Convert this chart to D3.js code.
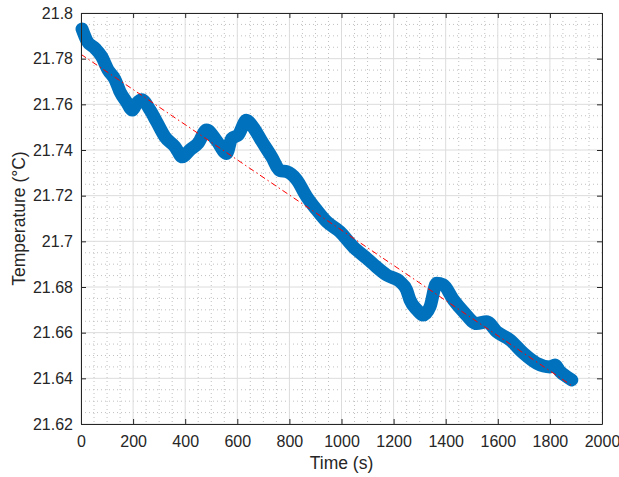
<!DOCTYPE html>
<meta charset="utf-8">
<script src="https://d3js.org/d3.v7.min.js"></script>
<style>
  body { margin: 0; background: #fff; }
  text { font-family: "Liberation Sans", Arial, sans-serif; fill: #262626; }
</style>
<div id="chart"></div>
<script>

var times = [4, 22, 54, 79, 104, 130, 150, 175, 197, 214, 233, 265, 290, 322, 361, 389, 418, 450,
             482, 521, 559, 578, 604, 635, 661, 693, 732, 764, 790, 828, 866, 905, 943, 994, 1045,
             1097, 1122, 1174, 1225, 1250, 1263, 1290, 1314, 1340, 1365, 1391, 1430, 1468, 1519,
             1557, 1596, 1647, 1698, 1749, 1800, 1820, 1839, 1865, 1884];
var temps = [21.793, 21.788, 21.7845, 21.781, 21.775, 21.771, 21.7655, 21.761, 21.7575, 21.7605,
             21.762, 21.7575, 21.7524, 21.7458, 21.7414, 21.737, 21.740, 21.743,
             21.7488, 21.744, 21.7385, 21.745, 21.7466, 21.753, 21.750, 21.744, 21.737, 21.731,
             21.7305, 21.727, 21.7196, 21.7137, 21.7086, 21.7042, 21.6976,
             21.6925, 21.690, 21.6852, 21.6823, 21.6787, 21.6743, 21.6700, 21.6677, 21.6714,
             21.6816, 21.6809, 21.6743, 21.6692, 21.664,
             21.6648, 21.6604, 21.6568, 21.651, 21.6466, 21.645, 21.6458, 21.643, 21.6407, 21.6393];

// linear fit line (end points)
var fitTimes = [0, 1884];
var fitTemps = [21.7819, 21.6368];

var xTicks = [0, 200, 400, 600, 800, 1000, 1200, 1400, 1600, 1800, 2000];
var yTicks = [21.62, 21.64, 21.66, 21.68, 21.7, 21.72, 21.74, 21.76, 21.78, 21.8];

var margin = {top: 13, right: 17, bottom: 53, left: 81},
    width = 619 - margin.left - margin.right,
    height = 477 - margin.top - margin.bottom;

var svg = d3.select("#chart")
  .append("svg")
    .attr("width", 619)
    .attr("height", 477)
  .append("g")
    .attr("transform", "translate(" + margin.left + "," + margin.top + ")");

var x = d3.scaleLinear().domain([0, 2000]).range([0, width]);
var y = d3.scaleLinear().domain([21.62, 21.8]).range([height, 0]);

// minor grid (dotted)
var xMinor = d3.range(0, 2001, 50).filter(function(d) { return d % 200 !== 0; });
var yMinor = d3.range(0, 37).map(function(i) { return 21.62 + i * 0.005; })
  .filter(function(d, i) { return i % 4 !== 0; });

svg.append("g").selectAll("line")
  .data(xMinor).enter().append("line")
    .attr("x1", function(d) { return x(d); })
    .attr("x2", function(d) { return x(d); })
    .attr("y1", 0).attr("y2", height)
    .style("stroke", "#c0c0c0")
    .style("stroke-dasharray", "1,3");

svg.append("g").selectAll("line")
  .data(yMinor).enter().append("line")
    .attr("y1", function(d) { return y(d); })
    .attr("y2", function(d) { return y(d); })
    .attr("x1", 0).attr("x2", width)
    .style("stroke", "#c0c0c0")
    .style("stroke-dasharray", "1,3");

// major grid
svg.append("g").selectAll("line")
  .data(xTicks).enter().append("line")
    .attr("x1", function(d) { return x(d); })
    .attr("x2", function(d) { return x(d); })
    .attr("y1", 0).attr("y2", height)
    .style("stroke", "#dcdcdc");

svg.append("g").selectAll("line")
  .data(yTicks).enter().append("line")
    .attr("y1", function(d) { return y(d); })
    .attr("y2", function(d) { return y(d); })
    .attr("x1", 0).attr("x2", width)
    .style("stroke", "#dcdcdc");

// data line (thick, marker-like)
var pts = times.map(function(t, i) { return [t, temps[i]]; });
var line = d3.line()
  .x(function(d) { return x(d[0]); })
  .y(function(d) { return y(d[1]); })
  .curve(d3.curveMonotoneX);

svg.append("path")
  .datum(pts)
  .attr("d", line)
  .style("fill", "none")
  .style("stroke", "#0072BD")
  .style("stroke-width", 13)
  .style("stroke-linecap", "round")
  .style("stroke-linejoin", "round");

// fit line
var fit = fitTimes.map(function(t, i) { return [t, fitTemps[i]]; });
svg.append("path")
  .datum(fit)
  .attr("d", d3.line().x(function(d) { return x(d[0]); }).y(function(d) { return y(d[1]); }))
  .style("fill", "none")
  .style("stroke", "#ff0000")
  .style("stroke-width", 1)
  .style("stroke-dasharray", "6,3,1.5,3");

// axes, MATLAB style with inward ticks and box
var fmt = function(d) { return String(+d.toFixed(2)); };

svg.append("g")
  .attr("transform", "translate(0," + height + ")")
  .call(d3.axisBottom(x).tickValues(xTicks).tickSizeInner(-5).tickSizeOuter(0).tickPadding(12).tickFormat(d3.format("d")))
  .call(function(g) {
    g.select(".domain").style("stroke", "#262626");
    g.selectAll(".tick line").style("stroke", "#262626");
    g.selectAll("text").style("font-size", "16px").style("fill", "#262626");
  });

svg.append("g")
  .call(d3.axisTop(x).tickValues(xTicks).tickSizeInner(-5).tickSizeOuter(0).tickFormat(""))
  .call(function(g) {
    g.select(".domain").style("stroke", "#262626");
    g.selectAll(".tick line").style("stroke", "#262626");
  });

svg.append("g")
  .call(d3.axisLeft(y).tickValues(yTicks).tickSizeInner(-5).tickSizeOuter(0).tickPadding(8).tickFormat(fmt))
  .call(function(g) {
    g.select(".domain").style("stroke", "#262626");
    g.selectAll(".tick line").style("stroke", "#262626");
    g.selectAll("text").style("font-size", "16px").style("fill", "#262626");
  });

svg.append("g")
  .attr("transform", "translate(" + width + ",0)")
  .call(d3.axisRight(y).tickValues(yTicks).tickSizeInner(-5).tickSizeOuter(0).tickFormat(""))
  .call(function(g) {
    g.select(".domain").style("stroke", "#262626");
    g.selectAll(".tick line").style("stroke", "#262626");
  });

// axis labels
svg.append("text")
  .attr("x", width / 2)
  .attr("y", height + 45)
  .attr("text-anchor", "middle")
  .style("font-size", "17.5px")
  .text("Time (s)");

svg.append("text")
  .attr("transform", "rotate(-90)")
  .attr("x", -height / 2)
  .attr("y", -56)
  .attr("text-anchor", "middle")
  .style("font-size", "17.5px")
  .text("Temperature (°C)");

</script>
